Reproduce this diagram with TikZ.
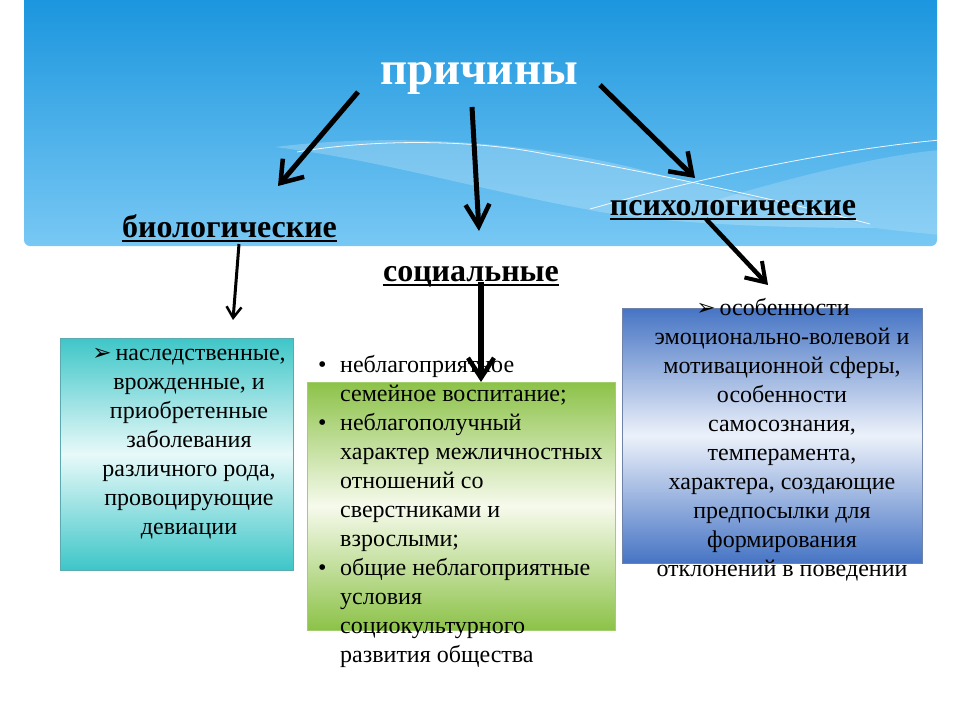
\documentclass[tikz,border=0pt]{standalone}
\usepackage{fontspec}
\setmainfont{Liberation Serif}
\newfontfamily\symfont{DejaVu Sans}
\usetikzlibrary{arrows.meta}
\definecolor{bannertop}{RGB}{20,146,220}
\definecolor{bannerbot}{RGB}{120,200,244}
\definecolor{cyantop}{RGB}{62,198,200}
\definecolor{cyanmid}{RGB}{232,249,249}
\definecolor{cyanedge}{RGB}{90,170,175}
\definecolor{greentop}{RGB}{140,194,72}
\definecolor{greenmid}{RGB}{246,250,236}
\definecolor{bluetop}{RGB}{70,116,196}
\definecolor{bluemid}{RGB}{236,241,250}
\definecolor{blueedge}{RGB}{110,130,170}
\newcommand\myul[1]{\setbox0\hbox{#1}\rlap{\rule[-5pt]{\wd0}{2.2pt}}\box0}
\newcommand\arrowmark{{\symfont\fontsize{23}{23}\selectfont ➢}}
\begin{document}
\begin{tikzpicture}[x=1pt,y=-1pt,
  heading/.style={font=\fontsize{32}{38}\selectfont\bfseries, anchor=base, inner sep=0pt},
  bodytext/.style={font=\fontsize{24}{29}\selectfont, inner sep=0pt, anchor=north},
  panel/.style={inner sep=0pt, line width=0.8pt},
  bigarrow/.style={line width=5pt, -{Straight Barb[length=20pt,width=28pt,line width=4.5pt]}},
  thinarrow/.style={line width=3pt, -{Straight Barb[length=11pt,width=15pt,line width=2.5pt]}}
]
\useasboundingbox (0,0) rectangle (960,720);
\fill[white] (0,0) rectangle (960,720);
% banner
\begin{scope}
  \clip[rounded corners=6pt] (24,-20) rectangle (937,246);
  \shade[top color=bannertop, bottom color=bannerbot] (24,-20) rectangle (937,246);
  \fill[white, opacity=0.22] (275,147) .. controls (380,134) and (520,138) .. (650,172)
     .. controls (740,195) and (820,215) .. (875,228)
     .. controls (760,228) and (650,222) .. (590,210)
     .. controls (480,190) and (380,160) .. cycle;
  \fill[white, opacity=0.18] (700,205) .. controls (780,180) and (880,155) .. (940,150)
     -- (940,235) .. controls (910,232) and (890,230) .. (875,228)
     .. controls (820,215) and (760,205) .. cycle;
  \draw[white, line width=0.8pt, opacity=0.9] (297,152) .. controls (380,138) and (480,140) .. (550,155)
     .. controls (650,172) and (780,200) .. (870,224);
  \draw[white, line width=0.8pt, opacity=0.9] (590,209) .. controls (700,178) and (830,150) .. (940,140);
\end{scope}
% panels
\node[panel, draw=cyanedge, top color=cyantop, bottom color=cyantop, middle color=cyanmid,
  minimum width=233pt, minimum height=232pt] (biobox) at (176.5,454) {};
\node[panel, draw=greentop!80!white, top color=greentop, bottom color=greentop, middle color=greenmid,
  minimum width=308pt, minimum height=248pt] (socbox) at (461,506) {};
\node[panel, draw=blueedge, top color=bluetop, bottom color=bluetop, middle color=bluemid,
  minimum width=300pt, minimum height=255pt] (psybox) at (772,435.5) {};
% headings
\node[heading, white, font=\fontsize{47}{52}\selectfont\bfseries] (prich) at (479,84) {причины};
\node[heading] (bio) at (229.5,237) {\myul{биологические}};
\node[heading] (soc) at (471,281) {\myul{социальные}};
\node[heading] (psy) at (733,215) {\myul{психологические}};
% texts
\node[bodytext, align=center] (biotext) at (189,340) {\strut\arrowmark\,наследственные,\\врожденные, и\\приобретенные\\заболевания\\различного рода,\\провоцирующие\\девиации};
\node[bodytext, anchor=north west, align=left] (soctext) at (318,352.4) {\strut\makebox[22pt][l]{•}неблагоприятное\\
\hspace*{22pt}семейное воспитание;\\
\makebox[22pt][l]{•}неблагополучный\\
\hspace*{22pt}характер межличностных\\
\hspace*{22pt}отношений со\\
\hspace*{22pt}сверстниками и\\
\hspace*{22pt}взрослыми;\\
\makebox[22pt][l]{•}общие неблагоприятные\\
\hspace*{22pt}условия\\
\hspace*{22pt}социокультурного\\
\hspace*{22pt}развития общества};
\node[bodytext, align=center] (psytext) at (782,294.7) {\strut\arrowmark\,особенности\hspace*{18pt}\\эмоционально-волевой и\\мотивационной сферы,\\особенности\\самосознания,\\темперамента,\\характера, создающие\\предпосылки для\\формирования\\отклонений в поведении};
% arrow coordinates
\coordinate (p1) at (358,92);
\coordinate (t1) at (278,186);
\coordinate (p2) at (472,107);
\coordinate (t2) at (479,231);
\coordinate (p3) at (600,85);
\coordinate (t3) at (695,178);
\coordinate (b1) at (239,244);
\coordinate (bt) at (233,320);
\coordinate (s1) at (481,282);
\coordinate (st) at (481,382);
\coordinate (q1) at (706,219);
\coordinate (qt) at (768,285);
\draw[bigarrow] (p1) -- (t1);
\draw[bigarrow, -{Straight Barb[length=22pt,width=24pt,line width=4.5pt]}] (p2) -- (t2);
\draw[bigarrow] (p3) -- (t3);
\draw[thinarrow] (b1) -- (bt);
\draw[bigarrow, line width=6pt, -{Straight Barb[length=20pt,width=26pt,line width=4.5pt]}] (s1) -- (st);
\draw[bigarrow, line width=4.5pt, -{Straight Barb[length=18pt,width=24pt,line width=4pt]}] (q1) -- (qt);
\end{tikzpicture}
\end{document}
